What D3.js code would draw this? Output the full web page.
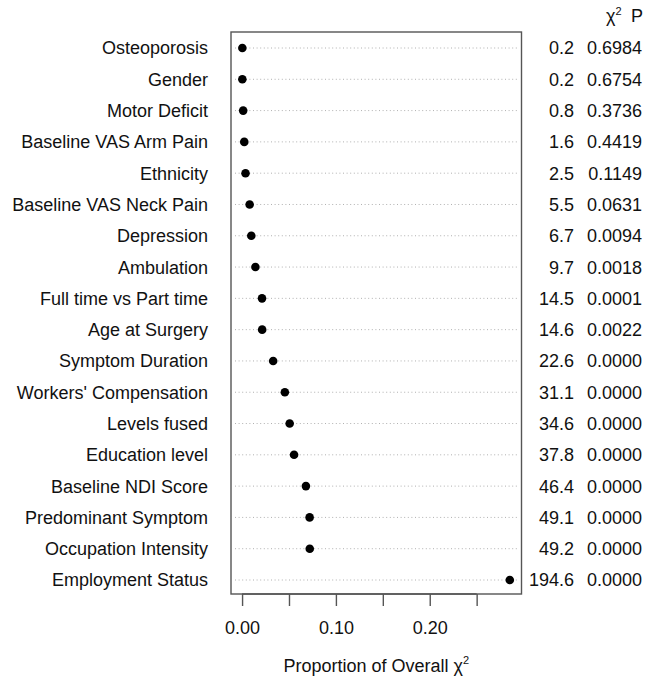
<!DOCTYPE html>
<html>
<head>
<meta charset="utf-8">
<script src="https://cdn.jsdelivr.net/npm/d3@7/dist/d3.min.js"></script>
<style>
  html, body { margin: 0; padding: 0; background: #fff; }
  svg { display: block; font-family: "Liberation Sans", Arial, Helvetica, sans-serif; }
</style>
</head>
<body>
<svg id="chart" width="646" height="677"></svg>
<script>
// Predictors, top to bottom
const predictors = [
  "Osteoporosis", "Gender", "Motor Deficit", "Baseline VAS Arm Pain", "Ethnicity",
  "Baseline VAS Neck Pain", "Depression", "Ambulation", "Full time vs Part time",
  "Age at Surgery", "Symptom Duration", "Workers' Compensation", "Levels fused",
  "Education level", "Baseline NDI Score", "Predominant Symptom",
  "Occupation Intensity", "Employment Status"
];
// Wald chi-square per predictor
const chiSq = [0.2, 0.2, 0.8, 1.6, 2.5, 5.5, 6.7, 9.7, 14.5, 14.6, 22.6, 31.1, 34.6, 37.8, 46.4, 49.1, 49.2, 194.6];
// P values as printed
const pValues = ["0.6984", "0.6754", "0.3736", "0.4419", "0.1149", "0.0631", "0.0094", "0.0018", "0.0001",
  "0.0022", "0.0000", "0.0000", "0.0000", "0.0000", "0.0000", "0.0000", "0.0000", "0.0000"];
// Overall model chi-square
const overallChiSq = 682;
const xTicks = [0, 0.05, 0.10, 0.15, 0.20, 0.25];
const xTickLabels = ["0.00", "", "0.10", "", "0.20", ""];

const proportion = chiSq.map(c => c / overallChiSq);

const svg = d3.select("#chart");
const box = { left: 231, right: 521.5, top: 32, bottom: 594 };
const fs = 18;

const x = d3.scaleLinear().domain([-0.0118, 0.2978]).range([box.left, box.right]);
const y = d3.scalePoint().domain(d3.range(predictors.length)).range([48, 580]);

// dotted guide lines
svg.append("g").selectAll("line").data(predictors).join("line")
  .attr("x1", box.left + 4).attr("x2", box.right - 3)
  .attr("y1", (d, i) => y(i)).attr("y2", (d, i) => y(i))
  .attr("stroke", "#b0b0b0").attr("stroke-width", 1)
  .attr("stroke-dasharray", "1,2.6");

// plot frame
svg.append("rect")
  .attr("x", box.left).attr("y", box.top)
  .attr("width", box.right - box.left).attr("height", box.bottom - box.top)
  .attr("fill", "none").attr("stroke", "#555").attr("stroke-width", 1.4);

// dots
svg.append("g").selectAll("circle").data(proportion).join("circle")
  .attr("cx", d => x(d)).attr("cy", (d, i) => y(i))
  .attr("r", 4.3).attr("fill", "#000");

// predictor labels
svg.append("g").selectAll("text").data(predictors).join("text")
  .attr("x", 208).attr("y", (d, i) => y(i)).attr("dy", "0.36em")
  .attr("text-anchor", "end").attr("font-size", fs).attr("fill", "#111")
  .text(d => d);

// chi-square column
svg.append("g").selectAll("text").data(chiSq).join("text")
  .attr("x", 574).attr("y", (d, i) => y(i)).attr("dy", "0.36em")
  .attr("text-anchor", "end").attr("font-size", fs).attr("fill", "#111")
  .text(d => d.toFixed(1));

// P column
svg.append("g").selectAll("text").data(pValues).join("text")
  .attr("x", 642).attr("y", (d, i) => y(i)).attr("dy", "0.36em")
  .attr("text-anchor", "end").attr("font-size", fs).attr("fill", "#111")
  .text(d => d);

// column header
const head = svg.append("text").attr("y", 22).attr("font-size", fs).attr("fill", "#111");
head.append("tspan").attr("x", 606).text("χ");
head.append("tspan").attr("font-size", 11).attr("dy", -7).text("2");
head.append("tspan").attr("x", 631).attr("dy", 7).text("P");

// x axis
const axis = d3.axisBottom(x).tickValues(xTicks)
  .tickFormat((d, i) => xTickLabels[i]).tickSize(12).tickPadding(15);
const gAxis = svg.append("g").attr("transform", `translate(0,${box.bottom})`).call(axis);
gAxis.select(".domain").attr("stroke", "#555").attr("stroke-width", 1.4)
  .attr("d", `M${x(0)},0H${x(0.25)}`);
gAxis.selectAll(".tick line").attr("stroke", "#555").attr("stroke-width", 1.4);
gAxis.selectAll(".tick text").attr("font-size", fs).attr("fill", "#111")
  .attr("font-family", "Liberation Sans, Arial, sans-serif");

// axis title
const title = svg.append("text")
  .attr("x", (box.left + box.right) / 2).attr("y", 672)
  .attr("text-anchor", "middle").attr("font-size", fs).attr("fill", "#111");
title.append("tspan").text("Proportion of Overall χ");
title.append("tspan").attr("font-size", 11).attr("dy", -8).text("2");
</script>
</body>
</html>
